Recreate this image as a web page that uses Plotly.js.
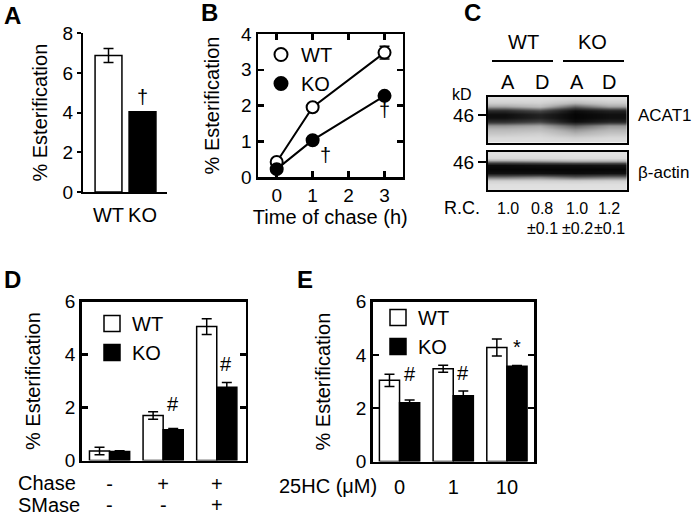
<!DOCTYPE html>
<html><head><meta charset="utf-8">
<script src="https://cdn.plot.ly/plotly-3.0.1.min.js"></script>
<style>html,body{margin:0;padding:0;background:#fff}#chart{width:693px;height:518px}</style>
</head><body><div id="chart"></div>
<script>
// ---------- Panel A ----------
const aGroups = ['WT', 'KO'];
const aValues = [6.88, 4.05];
const aErrors = [0.35, 0];
// ---------- Panel B ----------
const bTimes = [0, 1, 3];
const bWT = [0.42, 1.95, 3.48];
const bWTErr = [0.08, 0.08, 0.18];
const bKO = [0.22, 1.03, 2.27];
const bKOErr = [0.05, 0.06, 0.08];
// ---------- Panel C (western blot, band darkness read top->bottom per lane) ----------
const cGroups = ['WT', 'KO'];
const cLaneLabels = ['A', 'D', 'A', 'D'];
const cLanes = ['WT A', 'WT D', 'KO A', 'KO D'];
const cRC = ['1.0', '0.8', '1.0', '1.2'];
const cRCErr = ['', '±0.1', '±0.2', '±0.1'];
const acatWTA = [0.12, 0.2, 0.42, 0.82, 0.96, 0.95, 0.8, 0.45, 0.33, 0.24, 0.15, 0.12];
const acatWTD = [0.12, 0.18, 0.32, 0.68, 0.86, 0.86, 0.7, 0.4, 0.3, 0.2, 0.14, 0.12];
const acatKOA = [0.15, 0.32, 0.62, 0.96, 1.0, 1.0, 0.96, 0.62, 0.45, 0.35, 0.2, 0.13];
const acatKOD = [0.12, 0.22, 0.42, 0.86, 0.95, 0.95, 0.85, 0.45, 0.35, 0.25, 0.15, 0.12];
const actinWTA = [0.1, 0.15, 0.55, 0.97, 1.0, 0.95, 0.55, 0.2, 0.12, 0.1];
const actinWTD = [0.1, 0.15, 0.5, 0.95, 1.0, 0.95, 0.5, 0.2, 0.12, 0.1];
const actinKOA = [0.1, 0.14, 0.45, 0.95, 1.0, 0.97, 0.6, 0.22, 0.12, 0.1];
const actinKOD = [0.1, 0.14, 0.45, 0.93, 1.0, 0.95, 0.55, 0.2, 0.12, 0.1];
// ---------- Panel D ----------
const dChase = ['-', '+', '+'];
const dSMase = ['-', '-', '+'];
const dWT = [0.36, 1.70, 5.06];
const dWTErr = [0.14, 0.14, 0.30];
const dKO = [0.34, 1.16, 2.77];
const dKOErr = [0.03, 0.05, 0.18];
// ---------- Panel E ----------
const eDose = ['0', '1', '10'];
const eWT = [3.05, 3.48, 4.28];
const eWTErr = [0.23, 0.13, 0.32];
const eKO = [2.21, 2.47, 3.58];
const eKOErr = [0.10, 0.18, 0.02];

const W = 693, H = 518;
const FONT = 'Liberation Sans, Arial, Helvetica, sans-serif';
const px = v => v / W;
const py = v => 1 - v / H;
const transpose = lanes => lanes[0].map((_, i) => lanes.map(l => l[i]));
const dCats = dChase.map((c, i) => 'Chase ' + c + ' / SMase ' + dSMase[i]);

const errStyle = (arr) => ({type: 'data', array: arr, visible: true, color: '#000', thickness: 1.5, width: 5});
const blotScale = [[0, '#f3f3f3'], [0.35, '#b5b5b5'], [0.7, '#444'], [1, '#050505']];

const traces = [
  // A
  {type: 'bar', x: aGroups, y: aValues, width: 0.79, xaxis: 'x', yaxis: 'y',
   marker: {color: ['#fff', '#000'], line: {color: '#000', width: 1.5}},
   error_y: errStyle(aErrors), showlegend: false, hoverinfo: 'x+y'},
  // B
  {type: 'scatter', mode: 'lines+markers', x: bTimes, y: bWT, xaxis: 'x2', yaxis: 'y2', name: 'WT',
   line: {color: '#000', width: 2}, marker: {size: 12, color: '#fff', line: {color: '#000', width: 2}},
   error_y: errStyle(bWTErr), showlegend: false},
  {type: 'scatter', mode: 'lines+markers', x: bTimes, y: bKO, xaxis: 'x2', yaxis: 'y2', name: 'KO',
   line: {color: '#000', width: 2}, marker: {size: 12, color: '#000', line: {color: '#000', width: 2}},
   error_y: errStyle(bKOErr), showlegend: false},
  {type: 'scatter', mode: 'markers', x: [null], y: [null], xaxis: 'x2', yaxis: 'y2', name: 'WT', legend: 'legend',
   marker: {size: 13, color: '#fff', line: {color: '#000', width: 2}}},
  {type: 'scatter', mode: 'markers', x: [null], y: [null], xaxis: 'x2', yaxis: 'y2', name: 'KO', legend: 'legend',
   marker: {size: 13, color: '#000', line: {color: '#000', width: 2}}},
  // C blots
  {type: 'heatmap', x: cLanes, z: transpose([acatWTA, acatWTD, acatKOA, acatKOD]), xaxis: 'x3', yaxis: 'y3',
   colorscale: blotScale, zmin: 0, zmax: 1, showscale: false, zsmooth: 'best', hoverinfo: 'skip'},
  {type: 'heatmap', x: cLanes, z: transpose([actinWTA, actinWTD, actinKOA, actinKOD]), xaxis: 'x4', yaxis: 'y4',
   colorscale: blotScale, zmin: 0, zmax: 1, showscale: false, zsmooth: 'best', hoverinfo: 'skip'},
  // D
  {type: 'bar', x: dCats, y: dWT, name: 'WT', xaxis: 'x5', yaxis: 'y5',
   marker: {color: '#fff', line: {color: '#000', width: 1.5}}, error_y: errStyle(dWTErr), showlegend: false},
  {type: 'bar', x: dCats, y: dKO, name: 'KO', xaxis: 'x5', yaxis: 'y5',
   marker: {color: '#000', line: {color: '#000', width: 1.5}}, error_y: errStyle(dKOErr), showlegend: false},
  {type: 'scatter', mode: 'markers', x: [null], y: [null], xaxis: 'x5', yaxis: 'y5', name: 'WT', legend: 'legend2',
   marker: {symbol: 'square', size: 16, color: '#fff', line: {color: '#000', width: 1.5}}},
  {type: 'scatter', mode: 'markers', x: [null], y: [null], xaxis: 'x5', yaxis: 'y5', name: 'KO', legend: 'legend2',
   marker: {symbol: 'square', size: 16, color: '#000', line: {color: '#000', width: 1.5}}},
  // E
  {type: 'bar', x: eDose, y: eWT, name: 'WT', xaxis: 'x6', yaxis: 'y6',
   marker: {color: '#fff', line: {color: '#000', width: 1.5}}, error_y: errStyle(eWTErr), showlegend: false},
  {type: 'bar', x: eDose, y: eKO, name: 'KO', xaxis: 'x6', yaxis: 'y6',
   marker: {color: '#000', line: {color: '#000', width: 1.5}}, error_y: errStyle(eKOErr), showlegend: false},
  {type: 'scatter', mode: 'markers', x: [null], y: [null], xaxis: 'x6', yaxis: 'y6', name: 'WT', legend: 'legend3',
   marker: {symbol: 'square', size: 16, color: '#fff', line: {color: '#000', width: 1.5}}},
  {type: 'scatter', mode: 'markers', x: [null], y: [null], xaxis: 'x6', yaxis: 'y6', name: 'KO', legend: 'legend3',
   marker: {symbol: 'square', size: 16, color: '#000', line: {color: '#000', width: 1.5}}}
];

const base = {showgrid: false, zeroline: false, fixedrange: true, linecolor: '#000', tickcolor: '#000',
  tickfont: {size: 19, color: '#000'}};
const boxAxis = Object.assign({}, base, {showline: true, linewidth: 2.5, mirror: 'ticks', ticks: 'inside', ticklen: 6, tickwidth: 2.5});
const yTitle = (text, standoff) => ({text: text, font: {size: 20, color: '#000'}, standoff: standoff});

const annotations = [];
const ann = (text, x, y, size, extra) => annotations.push(Object.assign({text: text, x: px(x), y: py(y),
  xref: 'paper', yref: 'paper', showarrow: false, font: {size: size, color: '#000'}, xanchor: 'center', yanchor: 'middle'}, extra || {}));

// panel letters
ann('<b>A</b>', 12, 15, 24);
ann('<b>B</b>', 209, 13, 24);
ann('<b>C</b>', 472, 13, 24);
ann('<b>D</b>', 12, 279, 24);
ann('<b>E</b>', 305, 279, 24);
// significance marks (data coords)
const dataAnn = (text, x, y, xr, yr, size) => annotations.push({text: text, x: x, y: y, xref: xr, yref: yr,
  showarrow: false, font: {size: size || 20, color: '#000'}, xanchor: 'center', yanchor: 'middle'});
dataAnn('†', 'KO', 4.8, 'x', 'y');
dataAnn('†', 1.35, 0.62, 'x2', 'y2');
dataAnn('†', 3.0, 1.87, 'x2', 'y2');
dataAnn('#', 1.18, 2.14, 'x5', 'y5');
dataAnn('#', 2.17, 3.64, 'x5', 'y5');
dataAnn('#', 0.2, 3.29, 'x6', 'y6');
dataAnn('#', 1.18, 3.33, 'x6', 'y6');
dataAnn('*', 2.19, 4.3, 'x6', 'y6');
// panel C text
const laneX = [508, 542, 577, 609];
ann(cGroups[0], 523, 42, 20);
ann(cGroups[1], 592, 42, 20);
cLaneLabels.forEach((t, i) => ann(t, laneX[i], 82, 20));
ann('kD', 462, 95, 16);
ann('ACAT1', 636, 115, 17, {xanchor: 'left'});
ann('β-actin', 636, 172, 17, {xanchor: 'left'});
ann('R.C.', 462, 208, 18);
cRC.forEach((t, i) => ann(t, laneX[i], 208, 16));
cRCErr.forEach((t, i) => { if (t) ann(t, laneX[i], 228, 16); });
// panel D/E row labels
ann('Chase', 16, 483, 20, {xanchor: 'left'});
annotations.push({text: 'SMase', x: px(16), y: 0, xref: 'paper', yref: 'paper', showarrow: false,
  font: {size: 20, color: '#000'}, xanchor: 'left', yanchor: 'bottom'});
dSMase.forEach((s, i) => annotations.push({text: s, x: dCats[i], y: 0, xref: 'x5', yref: 'paper', showarrow: false,
  font: {size: 20, color: '#000'}, xanchor: 'center', yanchor: 'bottom'}));
ann('25HC (μM)', 277, 486, 20, {xanchor: 'left'});

const shapes = [
  {type: 'line', xref: 'paper', yref: 'paper', x0: px(492), x1: px(553), y0: py(61), y1: py(61), line: {color: '#000', width: 2}},
  {type: 'line', xref: 'paper', yref: 'paper', x0: px(563), x1: px(624), y0: py(61), y1: py(61), line: {color: '#000', width: 2}}
];

const layout = {
  width: W, height: H, margin: {l: 0, r: 0, t: 0, b: 0},
  paper_bgcolor: '#fff', plot_bgcolor: 'rgba(0,0,0,0)',
  font: {family: FONT, color: '#000', size: 19},
  barmode: 'group', bargap: 0.25, bargroupgap: 0,
  showlegend: true,
  // A
  xaxis: Object.assign({}, base, {type: 'category', domain: [px(83), px(167)], range: [-0.75, 1.72], showline: true, linewidth: 2,
    ticks: '', tickfont: {size: 20}, ticklabelstandoff: 4, anchor: 'y'}),
  yaxis: Object.assign({}, base, {domain: [py(192), py(33.3)], range: [0, 8], showline: true, linewidth: 2,
    ticks: 'outside', ticklen: 4, tickwidth: 2, tickvals: [0, 2, 4, 6, 8], anchor: 'x', title: yTitle('% Esterification', 10)}),
  // B
  xaxis2: Object.assign({}, boxAxis, {domain: [px(258), px(402.5)], range: [-0.52, 3.5], tickvals: [0, 1, 2, 3], anchor: 'y2',
    title: {text: 'Time of chase (h)', font: {size: 20, color: '#000'}, standoff: 4}}),
  yaxis2: Object.assign({}, boxAxis, {domain: [py(177), py(34)], range: [0, 4], tickvals: [0, 1, 2, 3, 4], anchor: 'x2',
    title: yTitle('% Esterification', 16)}),
  // C blots
  xaxis3: Object.assign({}, base, {type: 'category', domain: [px(488), px(626.7)], range: [-0.5, 3.5], showline: true, mirror: true, linewidth: 2,
    showticklabels: false, ticks: '', anchor: 'y3'}),
  yaxis3: Object.assign({}, base, {domain: [py(143), py(96.5)], range: [11.5, -0.5], showline: true, mirror: true, linewidth: 2,
    ticks: 'outside', ticklen: 8, tickwidth: 2, tickvals: [4.25], ticktext: ['46'], anchor: 'x3'}),
  xaxis4: Object.assign({}, base, {type: 'category', domain: [px(488), px(626.7)], range: [-0.5, 3.5], showline: true, mirror: true, linewidth: 2,
    showticklabels: false, ticks: '', anchor: 'y4'}),
  yaxis4: Object.assign({}, base, {domain: [py(190), py(152)], range: [9.5, -0.5], showline: true, mirror: true, linewidth: 2,
    ticks: 'outside', ticklen: 8, tickwidth: 2, tickvals: [2.2], ticktext: ['46'], anchor: 'x4'}),
  // D
  xaxis5: Object.assign({}, base, {type: 'category', domain: [px(81.7), px(245.7)], range: [-0.52, 2.54], showline: true, mirror: true, linewidth: 2.5,
    ticks: '', tickfont: {size: 20}, tickvals: dCats, ticktext: dChase, ticklabelstandoff: 4, anchor: 'y5'}),
  yaxis5: Object.assign({}, boxAxis, {domain: [py(460.5), py(301.7)], range: [0, 6], tickvals: [0, 2, 4, 6], anchor: 'x5',
    title: yTitle('% Esterification', 19)}),
  // E
  xaxis6: Object.assign({}, base, {type: 'category', domain: [px(372.7), px(534.3)], range: [-0.5, 2.51], showline: true, mirror: true, linewidth: 2.5,
    ticks: '', tickfont: {size: 20}, ticklabelstandoff: 6, anchor: 'y6'}),
  yaxis6: Object.assign({}, boxAxis, {domain: [py(461.5), py(301.7)], range: [0, 6], tickvals: [0, 2, 4, 6], anchor: 'x6',
    title: yTitle('% Esterification', 20)}),
  legend: {x: px(261), y: py(35), xanchor: 'left', yanchor: 'top', bgcolor: 'rgba(0,0,0,0)', font: {size: 20}, itemwidth: 30, tracegroupgap: 0},
  legend2: {x: px(92), y: py(304), xanchor: 'left', yanchor: 'top', bgcolor: 'rgba(0,0,0,0)', font: {size: 20}, itemwidth: 30, tracegroupgap: 0},
  legend3: {x: px(378), y: py(298), xanchor: 'left', yanchor: 'top', bgcolor: 'rgba(0,0,0,0)', font: {size: 20}, itemwidth: 30, tracegroupgap: 0},
  annotations: annotations,
  shapes: shapes
};

Plotly.newPlot('chart', traces, layout, {displayModeBar: false, staticPlot: true});
</script>
</body></html>
